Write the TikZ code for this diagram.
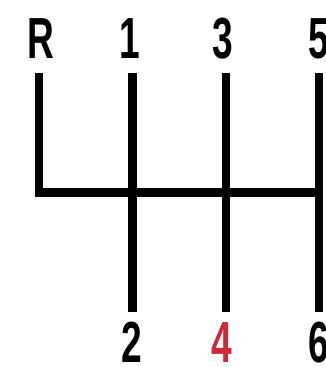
\documentclass[tikz,border=0pt]{standalone}
\usepackage{fontspec}
\newfontfamily\gearfont{Liberation Sans}[FakeStretch=0.64]
\definecolor{gearred}{RGB}{208,40,58}
\begin{document}
\begin{tikzpicture}[x=1pt,y=-1pt,
  rail/.style={line width=8.4pt, line join=miter},
  glabel/.style={inner sep=0pt, anchor=base, font=\gearfont\bfseries\fontsize{58}{58}\selectfont}]
\useasboundingbox (0,0) rectangle (325,367);
% labels
\node[glabel] (R) at (40.5,58) {R};
\node[glabel] (g1) at (130,58) {1};
\node[glabel] (g3) at (222.5,58) {3};
\node[glabel] (g5) at (318.5,58) {5};
\node[glabel] (g2) at (131.5,362) {2};
\node[glabel, text=gearred] (g4) at (222,362) {4};
\node[glabel] (g6) at (318.5,362) {6};
% rail coordinates
\coordinate (tR) at (39,73);
\coordinate (t1) at (132.5,73);
\coordinate (t3) at (226,73);
\coordinate (t5) at (319,73);
\coordinate (b2) at (132.5,312);
\coordinate (b4) at (226,312);
\coordinate (b6) at (319,312);
\coordinate (cR) at (39,192.5);
\coordinate (c6) at (319,192.5);
% rails
\draw[rail] (tR) -- (cR) -- (c6);
\draw[rail] (t1) -- (b2);
\draw[rail] (t3) -- (b4);
\draw[rail] (t5) -- (b6);
\end{tikzpicture}
\end{document}
